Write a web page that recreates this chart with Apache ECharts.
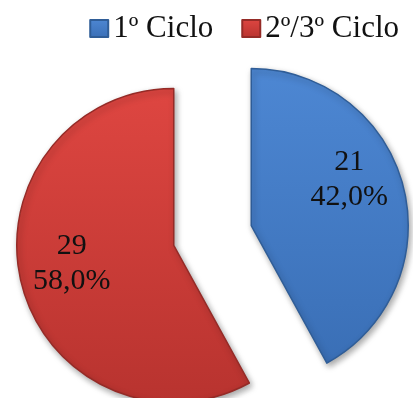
<!DOCTYPE html>
<html>
<head>
<meta charset="utf-8">
<script src="https://cdn.jsdelivr.net/npm/echarts@6/dist/echarts.min.js"></script>
<style>
html,body{margin:0;padding:0;background:#fff;}
#chart{width:413px;height:398px;}
</style>
</head>
<body>
<div id="chart"></div>
<script>
const categories = ['1º Ciclo', '2º/3º Ciclo'];
const counts = [21, 29];
const percents = ['42,0%', '58,0%'];
const topColors = ['#4d87d3', '#de4641'];
const bottomColors = ['#3a6fb6', '#b8332f'];
const edgeColors = ['#2f5d97', '#952b27'];

const FONT = '"Liberation Serif", "Times New Roman", serif';
const chart = echarts.init(document.getElementById('chart'));
const labelShift = [[19, -26], [-23, -2]];

chart.setOption({
  animation: false,
  legend: {
    data: categories,
    right: 9,
    top: 8,
    icon: 'rect',
    itemWidth: 18,
    itemHeight: 17,
    itemGap: 28,
    itemTextGap: 5,
    selectedMode: false,
    textStyle: { fontFamily: FONT, fontSize: 31, color: '#111' }
  },
  series: [{
    type: 'pie',
    center: [212.5, 235.5],
    radius: 157,
    startAngle: 90,
    clockwise: true,
    selectedMode: 'multiple',
    selectedOffset: 40,
    emphasis: { disabled: true },
    label: {
      show: true,
      position: 'inner',
      fontFamily: FONT,
      fontSize: 30,
      lineHeight: 35,
      color: '#111',
      formatter: function (p) { return counts[p.dataIndex] + '\n' + percents[p.dataIndex]; }
    },
    labelLayout: function (p) {
      return { dx: labelShift[p.dataIndex][0], dy: labelShift[p.dataIndex][1] };
    },
    data: categories.map(function (c, i) {
      return {
        name: c,
        value: counts[i],
        selected: true,
        itemStyle: {
          color: new echarts.graphic.LinearGradient(0, 0, 0, 1, [
            { offset: 0, color: topColors[i] },
            { offset: 1, color: bottomColors[i] }
          ]),
          borderColor: edgeColors[i],
          borderWidth: 1.5,
          shadowColor: 'rgba(0,0,0,0.35)',
          shadowBlur: 6,
          shadowOffsetX: 2,
          shadowOffsetY: 3
        }
      };
    })
  }]
});
</script>
</body>
</html>
